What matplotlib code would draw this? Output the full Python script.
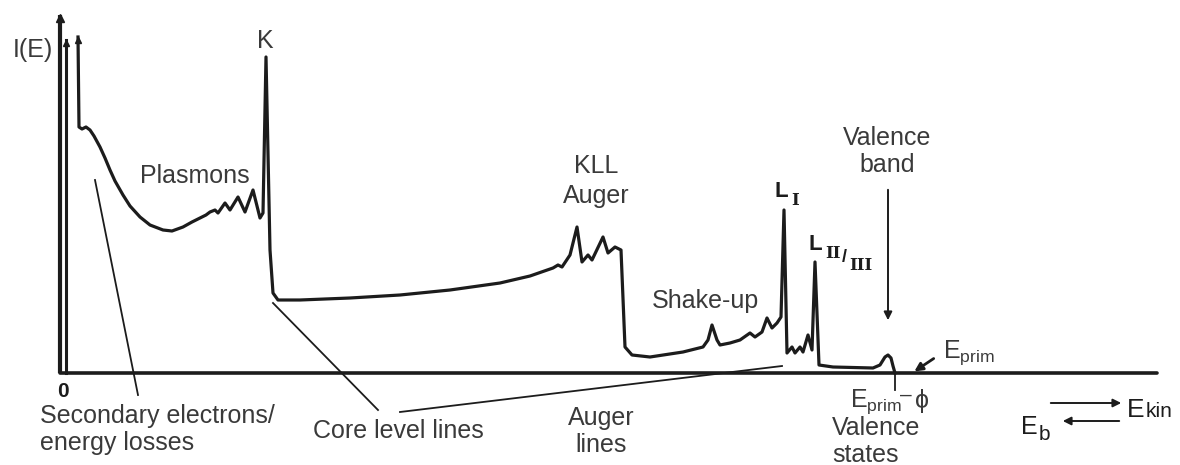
import matplotlib
matplotlib.use("Agg")
import matplotlib.pyplot as plt

# spectrum traced along the energy axis (x grows with kinetic energy,
# y is measured downwards from the top of the sheet)
spec_x = [78, 79, 82, 86, 90, 94, 100, 105, 110, 115, 123, 130, 140, 150, 163,
          172, 183, 192, 200, 206, 210, 215, 218, 225, 230, 238, 245, 253, 260,
          263, 266, 270, 273, 278, 300, 350, 400, 450, 500, 530, 553, 558, 562,
          570, 577, 582, 588, 592, 603, 608, 615, 621, 625, 632, 650, 683, 703,
          708, 712, 717, 720, 730, 740, 750, 755, 762, 767, 772, 777, 781, 784,
          787, 792, 795, 800, 803, 808, 812, 815, 819, 833, 873, 880, 885, 888,
          891, 893, 895]
spec_y = [37, 127, 129, 127, 130, 136, 147, 158, 170, 181, 195, 206, 217, 225, 230,
          231, 227, 222, 218, 215, 212, 210, 213, 203, 210, 197, 212, 190, 218,
          213, 57, 250, 293, 300, 300, 298, 295, 290, 283, 276, 268, 265, 267,
          255, 227, 262, 255, 260, 237, 253, 247, 250, 347, 355, 357, 352, 347,
          340, 325, 340, 345, 343, 340, 333, 337, 332, 318, 328, 323, 317, 210,
          353, 347, 353, 347, 352, 335, 350, 262, 365, 367, 368, 365, 357, 355,
          358, 366, 373]

# off-scale spikes at the low energy end
spike_x = [66]
spike_top = [40]

axis_y = 373
axis_x0, axis_x1 = 60, 1157
axis_top = 15

ink = "#1c1c1c"
txt = "#3a3a3a"

plt.rcParams["font.family"] = ["Liberation Sans", "DejaVu Sans"]
plt.rcParams["mathtext.fontset"] = "custom"
plt.rcParams["mathtext.rm"] = "Liberation Sans"

fig = plt.figure(figsize=(11.8, 4.65), dpi=100)
ax = fig.add_axes([0, 0, 1, 1])
ax.set_xlim(0, 1180)
ax.set_ylim(465, 0)
ax.axis("off")

# axes of the sketch
ax.plot([axis_x0, axis_x0], [axis_y, axis_top], color=ink, lw=3.0, solid_capstyle="butt")
ax.plot([axis_x0, axis_x1], [axis_y, axis_y], color=ink, lw=2.6, solid_capstyle="round")
ax.plot([axis_x0], [axis_top + 3], marker="^", ms=6, color=ink)

# spectrum
for sx, st in zip(spike_x, spike_top):
    ax.plot([sx, sx], [axis_y, st], color=ink, lw=2.2)
    ax.plot([sx], [st + 3], marker="^", ms=5, color=ink)
ax.plot(spec_x, spec_y, color=ink, lw=2.3, solid_joinstyle="round")
ax.plot([spec_x[0]], [spec_y[0] + 3], marker="^", ms=5, color=ink)

# leader lines
leaders = [((95, 180), (138, 395)),
           ((273, 303), (378, 410)),
           ((400, 412), (782, 366)),
           ((895, 373), (895, 390))]
for (x0, y0), (x1, y1) in leaders:
    ax.plot([x0, x1], [y0, y1], color=ink, lw=1.3)

arrow = dict(arrowstyle="-|>", color=ink, lw=1.4, mutation_scale=12)
ax.annotate("", xy=(888, 323), xytext=(888, 187), arrowprops=arrow)
ax.annotate("", xy=(912, 373), xytext=(936, 357),
            arrowprops=dict(arrowstyle="-|>", color=ink, lw=2.0, mutation_scale=12))
ax.annotate("", xy=(1124, 403), xytext=(1048, 403), arrowprops=arrow)
ax.annotate("", xy=(1060, 421), xytext=(1122, 421), arrowprops=arrow)

fs = 18
def label(s, x, y, ha="left", **kw):
    ax.text(x, y, s, ha=ha, va="baseline", fontsize=kw.pop("size", fs),
            color=kw.pop("color", txt), **kw)

label("I(E)", 13, 57)
label("K", 257, 48)
label("Plasmons", 140, 183)
label("KLL", 596, 173, ha="center")
label("Auger", 596, 203, ha="center")
label("Valence", 887, 145, ha="center")
label("band", 887, 172, ha="center")
label("Shake-up", 652, 308)
label("0", 57, 397, size=15, weight="bold", color=ink)
label("Secondary electrons/", 40, 423)
label("energy losses", 40, 450)
label("Core level lines", 313, 438)
label("Auger", 601, 425, ha="center")
label("lines", 601, 452, ha="center")
label(r"E$_{\mathrm{prim}}$", 943, 358)
label(r"E$_{\mathrm{prim}}$", 850, 407)
label("\u2013", 900, 401, size=15)
label("\u03d5", 915, 408)
label("Valence", 832, 435)
label("states", 832, 462)

# core level labels with roman subscripts
roman = ["DejaVu Serif"]
label("L", 774, 197, size=16, color=ink, weight="bold")
label("I", 791, 205, size=12, color=ink, family=roman, weight="bold")
label("L", 809, 250, size=16, color=ink, weight="bold")
label("II", 825, 258, size=12, color=ink, family=roman, weight="bold")
label("/", 842, 262, size=13, color=ink, weight="bold")
label("III", 849, 270, size=12, color=ink, family=roman, weight="bold")

# energy direction arrows
label("E", 1127, 417, size=19, color=ink)
label("kin", 1146, 417, size=15, color=ink)
label("E", 1021, 434, size=18, color=ink)
label("b", 1039, 440, size=15, color=ink)

fig.savefig("out.png", dpi=100, facecolor="white")
